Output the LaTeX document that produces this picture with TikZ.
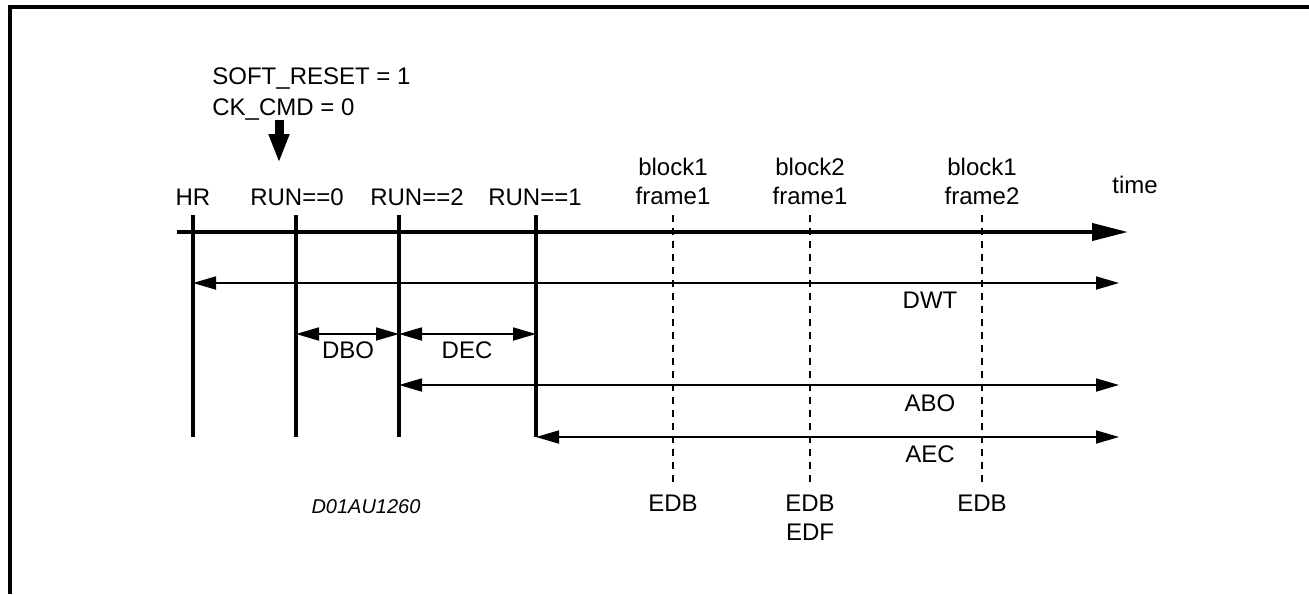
\documentclass[tikz,border=0pt]{standalone}
\usepackage{fontspec}
\setmainfont{Liberation Sans}
\usetikzlibrary{arrows.meta,positioning}
\tikzset{
    lbl/.style = {font=\fontsize{12}{14.5}\selectfont, inner sep=0pt},
    time-axis/.style = {line width=2pt, -{Triangle[length=18pt,width=8.5pt]}},
    event-line/.style = {line width=2pt},
    frame-mark/.style = {line width=1.3pt, dash pattern=on 3.5pt off 3pt},
    span-arrow/.style = {line width=0.9pt, {Triangle[length=11.5pt,width=6.5pt]}-{Triangle[length=11.5pt,width=6.5pt]}},
    block-arrow/.style = {line width=4.5pt, -{Triangle[length=14.5pt,width=9.5pt]}},
}

\begin{document}
\begin{tikzpicture}[x=0.5pt, y=-0.5pt]
\useasboundingbox (0,0) rectangle (1309,594);
\draw[line width=1.6pt] (10,594) -- (10,7) -- (1309,7);

% time axis
\coordinate (t0) at (177,232);
\coordinate (t1) at (1128,232);
\draw[time-axis] (t0) -- (t1);
\node[lbl, anchor=base] (time) at (1135,193) {time};

% events on the axis
\foreach \n/\x/\lx/\txt in {hr/193/193/HR, r0/296/297/RUN==0, r2/399/417/RUN==2, r1/536/535/RUN==1} {
    \coordinate (\n-top) at (\x,215);
    \coordinate (\n-bot) at (\x,437);
    \draw[event-line] (\n-top) -- (\n-bot);
    \node[lbl, anchor=base] (\n-lbl) at (\lx,205) {\txt};
}

% frame marks
\foreach \n/\x/\bk/\fr in {f1/673/block1/frame1, f2/810/block2/frame1, f3/982/block1/frame2} {
    \coordinate (\n-top) at (\x,215);
    \coordinate (\n-bot) at (\x,482);
    \draw[frame-mark] (\n-top) -- (\n-bot);
    \node[lbl, align=center, anchor=south] (\n-lbl) at (\x,205) {\bk\\\fr};
}
\node[lbl, below=6.5pt of f1-bot] (edb1) {EDB};
\node[lbl, align=center, below=6.5pt of f2-bot] (edb2) {EDB\\EDF};
\node[lbl, below=6.5pt of f3-bot] (edb3) {EDB};

% reset command
\node[lbl, align=left, anchor=north west, font=\fontsize{12}{15.5}\selectfont] (reset) at (212,67) {SOFT\_RESET = 1\\CK\_CMD = 0};
\coordinate (kick) at (279,163);
\draw[block-arrow] (reset.south -| kick) -- (kick);

% spans
\coordinate (end-dwt) at (1119,283);
\coordinate (end-abo) at (1119,385);
\coordinate (end-aec) at (1119,437);
\coordinate (d-row) at (0,334);
\draw[span-arrow] (hr-bot |- end-dwt) -- (end-dwt);
\draw[span-arrow] (r0-bot |- d-row) -- (r2-bot |- d-row);
\draw[span-arrow] (r2-bot |- d-row) -- (r1-bot |- d-row);
\draw[span-arrow] (r2-bot |- end-abo) -- (end-abo);
\draw[span-arrow] (r1-bot) -- (end-aec);
\node[lbl, anchor=base] (dwt) at (930,308) {DWT};
\node[lbl, anchor=base] (dbo) at (348,358) {DBO};
\node[lbl, anchor=base] (dec) at (467,358) {DEC};
\node[lbl, anchor=base] (abo) at (930,411) {ABO};
\node[lbl, anchor=base] (aec) at (930,462) {AEC};

\node[lbl, font=\fontsize{10}{12}\selectfont\itshape, anchor=base] (docid) at (366,513) {D01AU1260};
\end{tikzpicture}
\end{document}
